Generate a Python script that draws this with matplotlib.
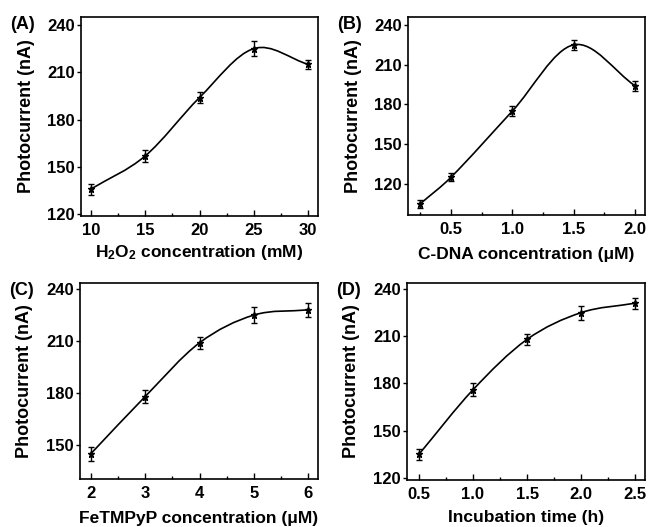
import numpy as np
import matplotlib
matplotlib.use("Agg")
import matplotlib.pyplot as plt
from matplotlib.path import Path
from matplotlib.patches import PathPatch
from matplotlib.ticker import MultipleLocator

plt.rcParams['font.family'] = ['Liberation Sans', 'DejaVu Sans']
plt.rcParams['font.weight'] = 'bold'
plt.rcParams['mathtext.fontset'] = 'custom'
plt.rcParams['mathtext.rm'] = 'Liberation Sans:bold'
plt.rcParams['mathtext.bf'] = 'Liberation Sans:bold'
plt.rcParams['mathtext.it'] = 'Liberation Sans:bold'

# (A) H2O2 concentration
h2o2_x = [10, 15, 20, 25, 30]
h2o2_y = [136, 157, 194, 225, 215]
h2o2_err = [3.5, 3.5, 3.5, 4.5, 3]

# (B) C-DNA concentration
cdna_x = [0.25, 0.5, 1.0, 1.5, 2.0]
cdna_y = [105, 125, 175, 225, 194]
cdna_err = [3, 3, 4, 4, 3.5]

# (C) FeTMPyP concentration
fe_x = [2, 3, 4, 5, 6]
fe_y = [145, 178, 209, 225, 228]
fe_err = [4, 4, 3.5, 4.5, 4]

# (D) incubation time
inc_x = [0.5, 1.0, 1.5, 2.0, 2.5]
inc_y = [135, 176, 208, 225, 231]
inc_err = [3.5, 4, 3.5, 4.5, 3.5]


def smooth_path(x, y):
    # cubic bezier segments through the points (Catmull-Rom style tangents)
    x = np.asarray(x, float)
    y = np.asarray(y, float)
    n = len(x)
    m = np.zeros(n)
    for i in range(n):
        if i == 0:
            m[i] = (y[1] - y[0]) / (x[1] - x[0])
        elif i == n - 1:
            m[i] = (y[-1] - y[-2]) / (x[-1] - x[-2])
        else:
            m[i] = (y[i + 1] - y[i - 1]) / (x[i + 1] - x[i - 1])
    verts = [(x[0], y[0])]
    codes = [Path.MOVETO]
    for i in range(n - 1):
        dx = (x[i + 1] - x[i]) / 3.0
        verts += [(x[i] + dx, y[i] + m[i] * dx),
                  (x[i + 1] - dx, y[i + 1] - m[i + 1] * dx),
                  (x[i + 1], y[i + 1])]
        codes += [Path.CURVE4] * 3
    return Path(verts, codes)


fig = plt.figure(figsize=(6.49, 5.27), dpi=100)

panels = [
    ("(A)", [81, 17, 318, 216], h2o2_x, h2o2_y, h2o2_err, (9.1, 30.9), (119, 245),
     [10, 15, 20, 25, 30], 2.5, [120, 150, 180, 210, 240], r"H$_2$O$_2$ concentration (mM)", "%d", -0.185),
    ("(B)", [408, 17, 645, 215], cdna_x, cdna_y, cdna_err, (0.15, 2.08), (96.5, 246),
     [0.5, 1.0, 1.5, 2.0], 0.25, [120, 150, 180, 210, 240], "C-DNA concentration (μM)", "%.1f", -0.2),
    ("(C)", [80, 283, 318, 479], fe_x, fe_y, fe_err, (1.8, 6.18), (130.4, 243.5),
     [2, 3, 4, 5, 6], 0.5, [150, 180, 210, 240], "FeTMPyP concentration (μM)", "%d", -0.2),
    ("(D)", [407, 283, 645, 480], inc_x, inc_y, inc_err, (0.39, 2.59), (118.7, 243.8),
     [0.5, 1.0, 1.5, 2.0, 2.5], 0.25, [120, 150, 180, 210, 240], "Incubation time (h)", "%.1f", -0.19),
]

W, H = 649.0, 527.0
for lab, box, x, y, err, xl, yl, xt, xminor, yt, xlabel, fmt, xlab_y in panels:
    l, t, r, b = box
    ax = fig.add_axes([l / W, 1 - b / H, (r - l) / W, (b - t) / H])
    ax.add_patch(PathPatch(smooth_path(x, y), facecolor='none', edgecolor='black',
                           lw=1.2, transform=ax.transData))
    ax.errorbar(x, y, yerr=err, fmt='*', color='black', ms=5, capsize=2,
                elinewidth=1.0, capthick=1.0)
    ax.set_xlim(xl)
    ax.set_ylim(yl)
    ax.set_xticks(xt)
    ax.set_xticklabels([fmt % v for v in xt])
    ax.xaxis.set_minor_locator(MultipleLocator(xminor))
    ax.set_yticks(yt)
    ax.tick_params(axis='x', which='both', direction='in', labelsize=12, pad=5)
    ax.tick_params(axis='x', which='major', length=4, width=1)
    ax.tick_params(axis='x', which='minor', length=2.5, width=1)
    ax.tick_params(axis='y', which='major', direction='out', length=3, width=1,
                   labelsize=12, pad=1.5)
    for s in ax.spines.values():
        s.set_linewidth(1.2)
    ax.set_ylabel("Photocurrent (nA)", fontsize=13, fontweight='bold')
    ax.yaxis.label.set_va('center')
    ax.yaxis.set_label_coords(-0.232, 0.5)
    ax.set_xlabel(xlabel, fontsize=12.5, fontweight='bold')
    ax.xaxis.label.set_va('center')
    ax.xaxis.set_label_coords(0.5, xlab_y)
    fig.text((l - 71) / W, 1 - (t + 7.5) / H, lab, fontsize=13, fontweight='bold',
             va='center', ha='left')

fig.savefig("out.png", dpi=100)
